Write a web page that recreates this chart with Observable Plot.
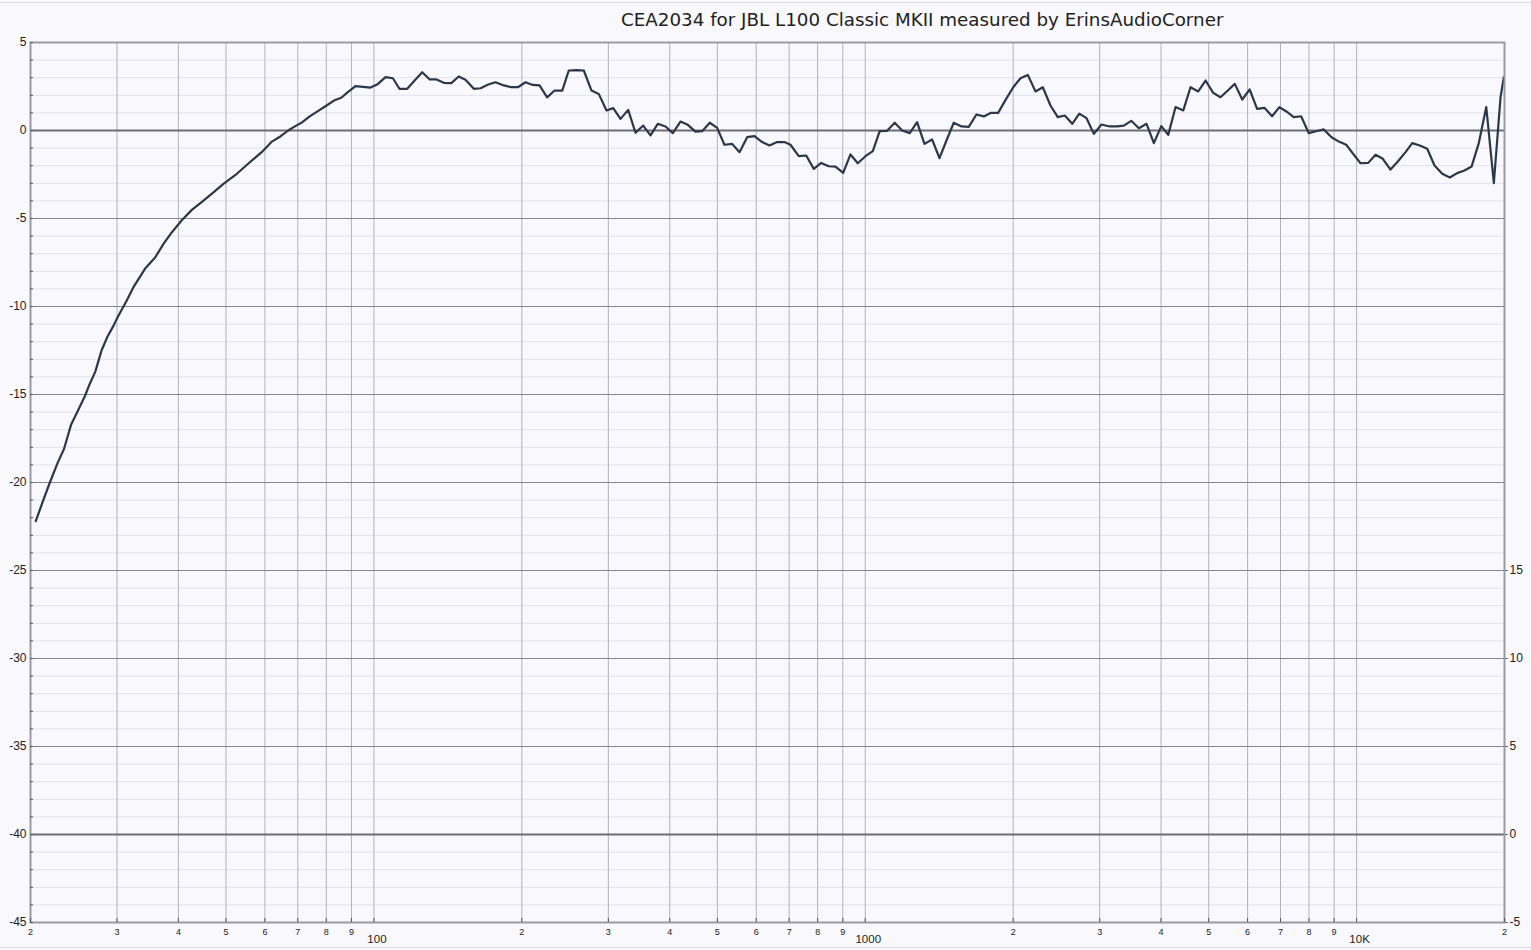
<!DOCTYPE html>
<html><head><meta charset="utf-8">
<script src="https://cdn.jsdelivr.net/npm/d3@7"></script>
<script src="https://cdn.jsdelivr.net/npm/@observablehq/plot@0.6"></script>
<style>
html,body{margin:0;padding:0;background:#f8f8fd;}
#wrap{position:relative;width:1531px;height:950px;overflow:hidden;background:#f8f8fd;}
#titlebar{position:relative;height:30px;}
#title{position:absolute;left:621px;top:11px;font-family:"DejaVu Sans",sans-serif;font-size:18.3px;line-height:1;color:#222;white-space:nowrap;}
.hl{position:absolute;left:0;width:1531px;height:1px;background:#dcdce2;}
#chart svg{display:block;}
</style></head><body>
<div id="wrap">
<div id="titlebar"><div id="title">CEA2034 for JBL L100 Classic MKII measured by ErinsAudioCorner</div></div>
<div id="chart"></div>
<div class="hl" style="top:2px"></div>
<div class="hl" style="top:947px"></div>
</div>
<script>
const freq = [20.5, 21.3, 21.9, 22.7, 23.4, 24.2, 25.0, 25.8, 26.4, 27.1,
27.9, 28.7, 29.5, 30.1, 31.4, 32.4, 34.2, 35.9, 37.3, 38.8,
40.6, 42.6, 44.6, 47.2, 49.4, 52.6, 55.6, 59.1, 62.0, 64.5,
66.9, 69.2, 71.5, 74.0, 76.9, 80.1, 82.9, 85.8, 88.5, 91.7,
98.4, 101.5, 105.6, 109.3, 112.7, 116.9, 121.0, 125.4, 129.9, 134.1,
138.7, 143.7, 148.8, 153.6, 159.7, 164.8, 170.9, 176.8, 183.8, 190.3,
196.3, 203.5, 210.5, 217.3, 225.2, 233.1, 241.7, 249.2, 258.4, 267.4,
277.2, 286.8, 297.4, 306.9, 317.6, 329.2, 340.7, 353.2, 365.5, 378.2,
392.1, 405.8, 420.6, 435.3, 451.3, 465.6, 482.5, 499.5, 516.9, 535.9,
554.7, 575.0, 595.1, 616.8, 638.4, 661.7, 684.8, 704.3, 732.3, 758.2,
785.6, 813.4, 842.7, 869.7, 901.7, 933.0, 965.5, 1001, 1036, 1070,
1108, 1148, 1189, 1232, 1275, 1320, 1368, 1416, 1468, 1514,
1570, 1624, 1684, 1743, 1799, 1864, 1930, 2001, 2070, 2142,
2221, 2298, 2382, 2465, 2548, 2638, 2727, 2821, 2919, 3026,
3146, 3257, 3360, 3478, 3605, 3737, 3867, 4004, 4137, 4281,
4439, 4592, 4761, 4927, 5108, 5284, 5469, 5651, 5851, 6059,
6273, 6491, 6730, 6965, 7197, 7448, 7711, 7990, 8272, 8574,
8892, 9200, 9526, 9842, 10186, 10560, 10928, 11308, 11722, 12132,
12578, 12980, 13448, 13924, 14408, 14938, 15478, 16022, 16580, 17140,
17736, 18362, 19026, 19632, 19938];

const spl = [-22.2, -20.9, -20.0, -18.9, -18.1, -16.7, -15.9, -15.1, -14.4, -13.7,
-12.5, -11.7, -11.1, -10.6, -9.66, -8.9, -7.86, -7.2, -6.44, -5.78,
-5.11, -4.51, -4.07, -3.5, -3.03, -2.46, -1.86, -1.23, -0.63, -0.34,
0.0, 0.25, 0.47, 0.8, 1.1, 1.42, 1.7, 1.86, 2.18, 2.52,
2.44, 2.61, 3.03, 2.97, 2.37, 2.37, 2.84, 3.31, 2.9, 2.9,
2.71, 2.69, 3.07, 2.88, 2.37, 2.4, 2.61, 2.74, 2.56, 2.46,
2.46, 2.74, 2.59, 2.56, 1.88, 2.27, 2.27, 3.41, 3.43, 3.41,
2.27, 2.08, 1.14, 1.27, 0.66, 1.17, -0.13, 0.28, -0.28, 0.38,
0.23, -0.15, 0.51, 0.32, -0.06, -0.04, 0.44, 0.15, -0.81, -0.76,
-1.23, -0.38, -0.32, -0.66, -0.85, -0.66, -0.66, -0.81, -1.46, -1.42,
-2.18, -1.84, -2.03, -2.05, -2.41, -1.36, -1.86, -1.46, -1.17, -0.04,
-0.02, 0.44, 0.0, -0.15, 0.47, -0.76, -0.51, -1.57, -0.47, 0.44,
0.23, 0.21, 0.91, 0.8, 1.0, 1.0, 1.74, 2.46, 2.97, 3.16,
2.22, 2.46, 1.42, 0.76, 0.85, 0.38, 0.96, 0.7, -0.19, 0.34,
0.23, 0.23, 0.28, 0.55, 0.13, 0.38, -0.72, 0.25, -0.25, 1.33,
1.14, 2.46, 2.22, 2.84, 2.14, 1.89, 2.27, 2.65, 1.76, 2.33,
1.23, 1.29, 0.81, 1.33, 1.08, 0.76, 0.81, -0.15, -0.04, 0.06,
-0.38, -0.63, -0.81, -1.33, -1.86, -1.84, -1.38, -1.61, -2.22, -1.76,
-1.23, -0.72, -0.85, -1.04, -1.99, -2.46, -2.67, -2.42, -2.27, -2.05,
-0.7, 1.33, -2.99, 1.89, 3.03];

// axes / grid definitions
const xGrid = [30,40,50,60,70,80,90,100,200,300,400,500,600,700,800,900,1000,2000,3000,4000,5000,6000,7000,8000,9000,10000];
const xDigitTicks = [20,30,40,50,60,70,80,90,200,300,400,500,600,700,800,900,2000,3000,4000,5000,6000,7000,8000,9000,20000];
const xDigitLabels = ["2","3","4","5","6","7","8","9","2","3","4","5","6","7","8","9","2","3","4","5","6","7","8","9","2"];
const xDecadeTicks = [100, 1000, 10000];
const xDecadeLabels = ["100", "1000", "10K"];
const yLeftTicks = [5,0,-5,-10,-15,-20,-25,-30,-35,-40,-45];
const yRightTicks = [-25,-30,-35,-40,-45];
const yRightLabels = ["15","10","5","0","-5"];
const yMajor = [-5,-10,-15,-20,-25,-30,-35];
const yBold = [0, -40];
const yMinor = d3.range(-44, 5, 1).filter(v => v % 5 !== 0);
const yAllTicks = d3.range(-45, 6, 1);

const data = freq.map((f, i) => ({f, db: spl[i]}));
const rightMap = new Map(yRightTicks.map((t, i) => [t, yRightLabels[i]]));

const chart = Plot.plot({
  width: 1531, height: 920,
  marginTop: 12, marginBottom: 28, marginLeft: 30, marginRight: 27,
  style: {background: "#f8f8fd", fontFamily: "'Liberation Sans', Arial, sans-serif", color: "#222", overflow: "visible"},
  x: {type: "log", domain: [20, 20000], label: null},
  y: {domain: [-45, 5], label: null},
  marks: [
    Plot.ruleY(yMinor, {stroke: "#e3e3ea", strokeWidth: 1}),
    Plot.ruleX(xGrid, {stroke: "#b3b3bb", strokeWidth: 1}),
    Plot.ruleY(yMajor, {stroke: "#85858d", strokeWidth: 1}),
    Plot.ruleY(yBold, {stroke: "#6c6c74", strokeWidth: 2}),
    Plot.line(data, {x: "f", y: "db", stroke: "#2a3849", strokeWidth: 2.2}),
    Plot.frame({stroke: "#9a9aa2", strokeWidth: 2}),
    Plot.axisY({ticks: yAllTicks, tickSize: -3, tickFormat: () => "", stroke: "#55555c", label: null}),
    Plot.axisY({ticks: yLeftTicks, tickSize: 0, tickPadding: 4, fontSize: 12, tickFormat: d => String(d), label: null}),
    Plot.axisY({anchor: "right", ticks: yRightTicks, tickSize: 3, tickPadding: 2, fontSize: 12, tickFormat: d => rightMap.get(d), stroke: "#6c6c74", label: null}),
    Plot.axisX({ticks: xDigitTicks.concat(xDecadeTicks), tickSize: -4, tickFormat: () => "", stroke: "#55555c", label: null}),
    Plot.text(xDigitTicks, {x: d => d, frameAnchor: "bottom", dy: 12, text: (d, i) => xDigitLabels[i], fontSize: 9, fill: "#222"}),
    Plot.text(xDecadeTicks, {x: d => d, frameAnchor: "bottom", dy: 20, dx: 3, text: (d, i) => xDecadeLabels[i], fontSize: 11.5, fill: "#222"})
  ]
});
document.getElementById("chart").appendChild(chart);
</script>
</body></html>
